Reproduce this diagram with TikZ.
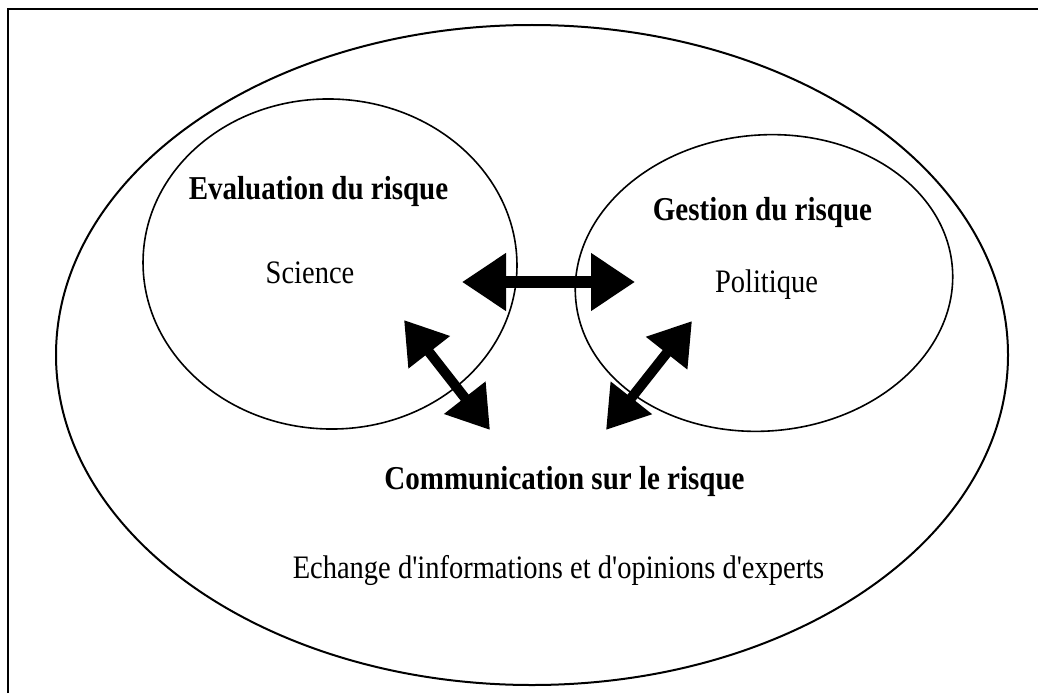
\documentclass[tikz,border=0pt]{standalone}
\usepackage{fontspec}
\setmainfont{Liberation Serif}
\usetikzlibrary{arrows.meta}
\newcommand{\talltext}[1]{\scalebox{1}[1.15]{#1}}
\begin{document}
\begin{tikzpicture}[x=1pt,y=-1pt,
  ring/.style={line width=1.6pt},
  boldlabel/.style={font=\fontsize{29}{34}\selectfont\bfseries, anchor=base, inner sep=0pt},
  plainlabel/.style={font=\fontsize{28.5}{34}\selectfont, anchor=base, inner sep=0pt},
  dblh/.style={line width=12pt, {Triangle[length=44pt,width=55pt]}-{Triangle[length=44pt,width=55pt]}},
  dbld/.style={line width=10pt, {Triangle[length=41pt,width=50pt]}-{Triangle[length=41pt,width=50pt]}}]
\useasboundingbox (0,0) rectangle (1038,693);
% frame (top and left only)
\draw[line width=2.2pt] (8,693) -- (8,9) -- (1038,9);
% ellipses
\coordinate (outerc) at (532,355);
\coordinate (leftc) at (330,264);
\coordinate (rightc) at (764,283);
\draw[line width=2pt] (outerc) ellipse [x radius=476, y radius=330];
\draw[ring, rotate around={-2:(leftc)}] (leftc) ellipse [x radius=187, y radius=165];
\draw[ring, rotate around={5:(rightc)}] (rightc) ellipse [x radius=189, y radius=148];
% labels
\node[boldlabel] (eval) at (318.5,199) {\talltext{Evaluation du risque}};
\node[plainlabel] (sci) at (310,283) {\talltext{Science}};
\node[boldlabel] (gest) at (762.5,220) {\talltext{Gestion du risque}};
\node[plainlabel] (pol) at (766.5,292) {\talltext{Politique}};
\node[boldlabel] (comm) at (564.5,489) {\talltext{Communication sur le risque}};
\node[plainlabel] (ech) at (558.5,578) {\talltext{Echange d\textquotesingle informations et d\textquotesingle opinions d\textquotesingle experts}};
% arrow ends
\coordinate (hl) at (462,282);
\coordinate (hr) at (635,282);
\coordinate (dlu) at (404,320);
\coordinate (dld) at (490,430);
\coordinate (drd) at (606,430);
\coordinate (dru) at (692,321);
\draw[dblh] (hl) -- (hr);
\draw[dbld] (dlu) -- (dld);
\draw[dbld] (drd) -- (dru);
\end{tikzpicture}
\end{document}
